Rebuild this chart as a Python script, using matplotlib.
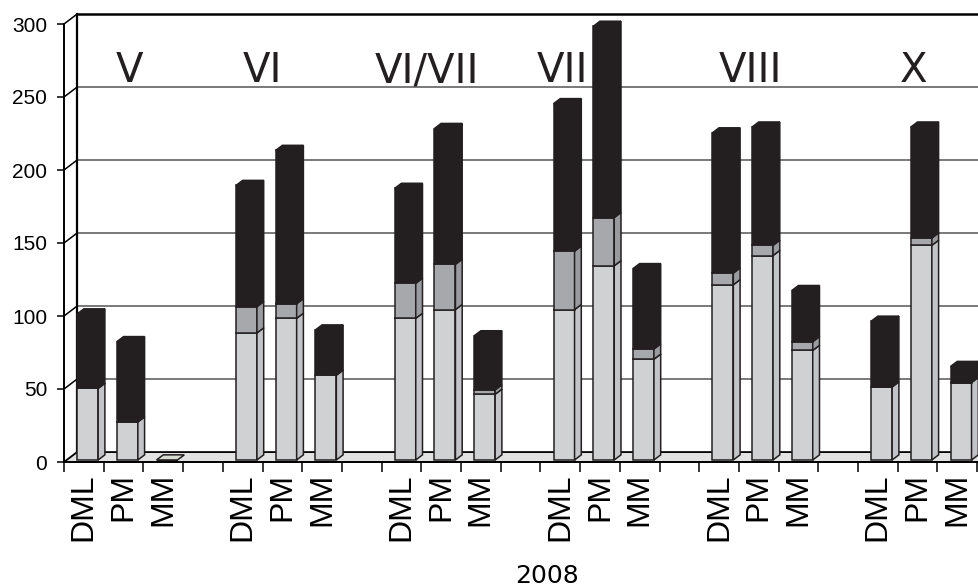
import matplotlib.pyplot as plt
from matplotlib.patches import Polygon

months = ['V', 'VI', 'VI/VII', 'VII', 'VIII', 'X']
sites = ['DML', 'PM', 'MM']

# stacked parts per bar, month by month (DML, PM, MM)
light = [49, 26, 0, 87, 97, 58, 97, 103, 45, 103, 133, 69, 120, 140, 75, 50, 147, 53]
grey = [0, 0, 0, 18, 10, 0, 24, 31, 3, 40, 33, 7, 8, 7, 6, 0, 5, 0]
dark = [51, 55, 0, 83, 105, 31, 65, 93, 37, 101, 131, 55, 96, 81, 35, 45, 76, 11]

yticks = [0, 50, 100, 150, 200, 250, 300]
month_pos = [1.66, 5.0, 9.15, 12.55, 17.3, 21.4]

colors = ['#d0d1d3', '#a7a8ab', '#231f20']
side_colors = ['#c3c4c7', '#9a9b9e', '#231f20']
edge = '#231f20'

# fake 3d depth (slots / value units)
wdx, wdy = 0.33, 6.8     # wall
bdx, bdy = 0.17, 3.5     # bars
bw = 0.53
base = 1.4               # bars stand a little back on the floor

fig = plt.figure(figsize=(9.79, 5.88), dpi=100)
ax = fig.add_axes([64/979, 126/588, 915/979, 452.6/588])
ax.set_xlim(0, 915/39.7)
ax.set_ylim(0, 310)

xmax = 915/39.7 + 1

# back wall gridlines + diagonals from the front axis
for v in yticks[1:]:
    lw = 1.8 if v == 300 else 1.1
    c = 'black' if v == 300 else '#555555'
    ax.plot([wdx, xmax], [v + wdy, v + wdy], color=c, lw=lw, clip_on=False, zorder=1)
    ax.plot([0, wdx], [v, v + wdy], color='black', lw=1.1, clip_on=False, zorder=1)
ax.plot([wdx, wdx], [wdy, 300 + wdy], color='black', lw=1.6, clip_on=False, zorder=1)

# floor
floor = Polygon([(0, 0), (wdx, wdy), (xmax, wdy), (xmax, 0)], closed=True,
                facecolor='#e2e2e2', edgecolor='black', lw=1.3, clip_on=False, zorder=1)
ax.add_patch(floor)

pos = [g*4 + i for g in range(len(months)) for i in range(len(sites))]
lefts = [p + 0.33 for p in pos]

bottoms = [base]*len(pos)
for k, vals in enumerate([light, grey, dark]):
    ax.bar(lefts, vals, width=bw, bottom=bottoms, align='edge', color=colors[k],
           edgecolor=edge, linewidth=1.1, zorder=3, clip_on=False)
    for x0, y0, h in zip(lefts, bottoms, vals):
        if h == 0:
            continue
        x1 = x0 + bw
        side = Polygon([(x1, y0), (x1 + bdx, y0 + bdy), (x1 + bdx, y0 + h + bdy), (x1, y0 + h)],
                       closed=True, facecolor=side_colors[k], edgecolor=edge, lw=1.1,
                       zorder=3, clip_on=False)
        top = Polygon([(x0, y0 + h), (x0 + bdx, y0 + h + bdy), (x1 + bdx, y0 + h + bdy), (x1, y0 + h)],
                      closed=True, facecolor=colors[k], edgecolor=edge, lw=1.1,
                      zorder=2.5, clip_on=False)
        ax.add_patch(side)
        ax.add_patch(top)
    bottoms = [b + v for b, v in zip(bottoms, vals)]

# empty bar still shows its lid
for x0, tot in zip(lefts, bottoms):
    if tot == base:
        lid = Polygon([(x0, base), (x0 + bdx, base + bdy), (x0 + bw + bdx, base + bdy), (x0 + bw, base)],
                      closed=True, facecolor='#d8dcd0', edgecolor=edge, lw=1.1, zorder=3)
        ax.add_patch(lid)

for m, xm in zip(months, month_pos):
    ax.text(xm, 260, m, ha='center', va='baseline', fontsize=29, color='#231f20',
            family='DejaVu Sans')

# axes
for s in ['top', 'right']:
    ax.spines[s].set_visible(False)
ax.spines['left'].set_bounds(0, 300)
ax.spines['left'].set_linewidth(1.4)
ax.spines['bottom'].set_linewidth(1.3)
ax.set_yticks(yticks)
ax.set_yticklabels([str(v) for v in yticks], fontsize=15, family='Liberation Sans')
ax.tick_params(axis='y', length=5, width=1.1, pad=7)

ax.set_xticks(range(0, 24))
ax.set_xticklabels([])
ax.tick_params(axis='x', which='major', length=7, width=1.1)
ax.set_xticks([p + 0.5 for p in pos], minor=True)
ax.set_xticklabels(sites*len(months), minor=True, rotation=90, fontsize=23,
                   family='Liberation Sans', va='top')
ax.tick_params(axis='x', which='minor', length=0, pad=8)

fig.text(547/979, 1 - 576/588, '2008', ha='center', va='center', fontsize=18,
         family='DejaVu Sans')

plt.savefig('out.png', dpi=100)
